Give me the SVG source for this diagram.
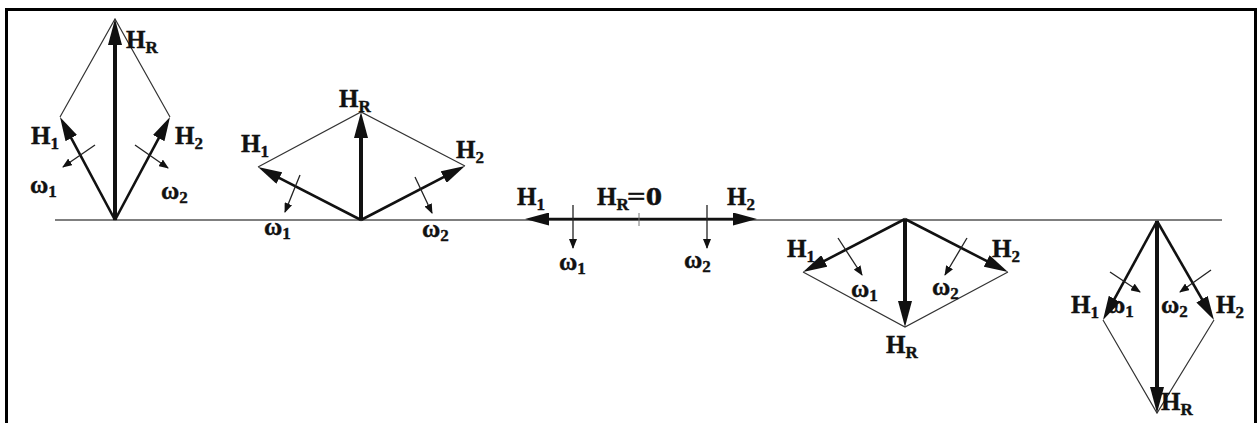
<svg xmlns="http://www.w3.org/2000/svg" width="1258" height="423" viewBox="0 0 1258 423">
<defs>
<style>
.t{font-family:"Liberation Serif","Times New Roman",serif;font-weight:bold;font-size:25px;fill:#111;stroke:#111;stroke-width:0.4}
.s{font-size:17px}
.vec{stroke:#111;stroke-width:2.6;fill:none;marker-end:url(#ah)}
.res{stroke:#111;stroke-width:4;fill:none;marker-end:url(#ahb)}
.dia{stroke:#333;stroke-width:1.2;fill:none}
.om{stroke:#222;stroke-width:1.3;fill:none;marker-end:url(#as)}
</style>
<marker id="ah" markerUnits="userSpaceOnUse" markerWidth="24" markerHeight="13" refX="14" refY="6.5" orient="auto"><path d="M0,0 L24,6.5 L0,13 z" fill="#111"/></marker>
<marker id="ahb" markerUnits="userSpaceOnUse" markerWidth="26" markerHeight="14" refX="16" refY="7" orient="auto"><path d="M0,0 L26,7 L0,14 z" fill="#111"/></marker>
<marker id="as" markerUnits="userSpaceOnUse" markerWidth="10" markerHeight="8" refX="9" refY="4" orient="auto"><path d="M0,0 L10,4 L0,8 z" fill="#111"/></marker>
</defs>
<rect width="1258" height="423" fill="#fff"/>
<path id="frame" d="M6.5,430 V9.5 H1255.5 V430" fill="none" stroke="#000" stroke-width="3"/>
<g id="connectors">
<line id="baseline" x1="55" y1="220" x2="1222" y2="220" stroke="#555" stroke-width="1.5"/>
</g>
<g id="case1">
<path class="dia" d="M60,117 L115,19 L170,117"/>
<line class="res" x1="115" y1="220" x2="115" y2="29"/>
<line class="vec" x1="115" y1="220" x2="64.7" y2="125.8"/>
<line class="vec" x1="115" y1="220" x2="165.3" y2="125.8"/>
<line class="om" x1="95" y1="145" x2="63" y2="167"/>
<line class="om" x1="135" y1="145" x2="168" y2="168"/>
<text class="t" x="126" y="48">H<tspan class="s" dy="5">R</tspan></text>
<text class="t" x="31" y="144">H<tspan class="s" dy="5">1</tspan></text>
<text class="t" x="175" y="144">H<tspan class="s" dy="5">2</tspan></text>
<text class="t" x="30" y="193">ω<tspan class="s" dy="4">1</tspan></text>
<text class="t" x="161" y="199">ω<tspan class="s" dy="4">2</tspan></text>
</g>
<g id="case2">
<path class="dia" d="M258,167 L361,112 L465,166"/>
<line class="res" x1="361" y1="220" x2="361" y2="122"/>
<line class="vec" x1="361" y1="220" x2="266.9" y2="171.6"/>
<line class="vec" x1="361" y1="220" x2="456.1" y2="170.6"/>
<line class="om" x1="300" y1="175" x2="285" y2="212"/>
<line class="om" x1="415" y1="177" x2="432" y2="213"/>
<text class="t" x="339" y="107">H<tspan class="s" dy="5">R</tspan></text>
<text class="t" x="241" y="152">H<tspan class="s" dy="5">1</tspan></text>
<text class="t" x="456" y="158">H<tspan class="s" dy="5">2</tspan></text>
<text class="t" x="264" y="235">ω<tspan class="s" dy="4">1</tspan></text>
<text class="t" x="422" y="237">ω<tspan class="s" dy="4">2</tspan></text>
</g>
<g id="case3">
<line class="vec" x1="640" y1="219" x2="535" y2="219"/>
<line class="vec" x1="640" y1="219" x2="747" y2="219"/>
<line x1="639" y1="213" x2="639" y2="226" stroke="#777" stroke-width="1"/>
<line class="om" x1="573" y1="205" x2="573" y2="248"/>
<line class="om" x1="707" y1="205" x2="707" y2="248"/>
<text class="t" x="517" y="205">H<tspan class="s" dy="5">1</tspan></text>
<text class="t" x="597" y="205">H<tspan class="s" dy="5">R</tspan></text>
<text class="t" x="627" y="205" textLength="35" lengthAdjust="spacingAndGlyphs">=0</text>
<text class="t" x="727" y="205">H<tspan class="s" dy="5">2</tspan></text>
<text class="t" x="559" y="270">ω<tspan class="s" dy="4">1</tspan></text>
<text class="t" x="684" y="268">ω<tspan class="s" dy="4">2</tspan></text>
</g>
<g id="case4">
<path class="dia" d="M803,272 L905,327 L1008,272"/>
<line class="res" x1="905" y1="219" x2="905" y2="317"/>
<line class="vec" x1="905" y1="219" x2="811.9" y2="267.4"/>
<line class="vec" x1="905" y1="219" x2="999.1" y2="267.4"/>
<line class="om" x1="838" y1="238" x2="862" y2="275"/>
<line class="om" x1="967" y1="238" x2="945" y2="275"/>
<text class="t" x="787" y="257">H<tspan class="s" dy="5">1</tspan></text>
<text class="t" x="992" y="257">H<tspan class="s" dy="5">2</tspan></text>
<text class="t" x="851" y="297">ω<tspan class="s" dy="4">1</tspan></text>
<text class="t" x="932" y="295">ω<tspan class="s" dy="4">2</tspan></text>
<text class="t" x="886" y="353">H<tspan class="s" dy="5">R</tspan></text>
</g>
<g id="case5">
<path class="dia" d="M1103,320 L1157,413 L1214,320"/>
<line class="res" x1="1157" y1="221" x2="1157" y2="403"/>
<line class="vec" x1="1157" y1="221" x2="1107.8" y2="311.2"/>
<line class="vec" x1="1157" y1="221" x2="1209" y2="311.3"/>
<line class="om" x1="1110" y1="272" x2="1140" y2="292"/>
<line class="om" x1="1211" y1="270" x2="1180" y2="292"/>
<text class="t" x="1071" y="313">H<tspan class="s" dy="5">1</tspan></text>
<text class="t" x="1107" y="313">ω<tspan class="s" dy="4">1</tspan></text>
<text class="t" x="1161" y="313">ω<tspan class="s" dy="4">2</tspan></text>
<text class="t" x="1216" y="313">H<tspan class="s" dy="5">2</tspan></text>
<text class="t" x="1161" y="410">H<tspan class="s" dy="5">R</tspan></text>
</g>
</svg>
